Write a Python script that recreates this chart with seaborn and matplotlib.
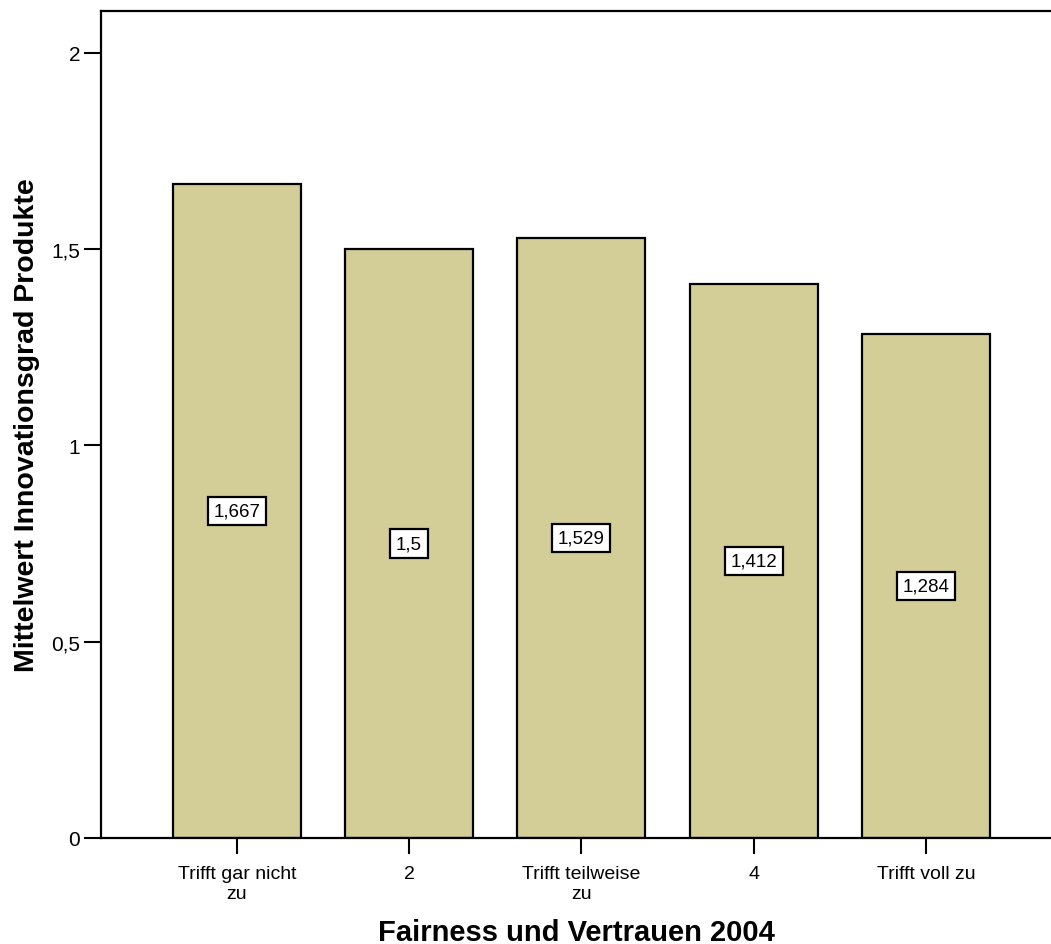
import matplotlib
matplotlib.use("Agg")
import matplotlib.pyplot as plt
import seaborn as sns
import pandas as pd

categories = ["Trifft gar nicht\nzu", "2", "Trifft teilweise\nzu", "4", "Trifft voll zu"]
means = [1.667, 1.5, 1.529, 1.412, 1.284]
value_labels = ["1,667", "1,5", "1,529", "1,412", "1,284"]
ytick_values = [0, 0.5, 1, 1.5, 2]
ytick_labels = ["0", "0,5", "1", "1,5", "2"]

sns.set_style("white")
plt.rcParams["font.family"] = ["Liberation Sans", "DejaVu Sans"]
plt.rcParams["text.color"] = "black"
plt.rcParams["axes.labelcolor"] = "black"
plt.rcParams["xtick.color"] = "black"
plt.rcParams["ytick.color"] = "black"

df = pd.DataFrame({"cat": categories, "mean": means})

fig = plt.figure(figsize=(10.51, 9.45), dpi=100)
ax = fig.add_axes([101 / 1051, 1 - 839 / 945, 1 - 101 / 1051, (839 - 12) / 945])

sns.barplot(data=df, x="cat", y="mean", color="#d3cd98", saturation=1,
            width=0.743, edgecolor="black", linewidth=1.6, ax=ax)

# value boxes at half the bar height
for i, (v, lab) in enumerate(zip(means, value_labels)):
    ax.text(i, v / 2, lab, ha="center", va="center", fontsize=13.5,
            bbox=dict(boxstyle="square,pad=0.3", facecolor="white",
                      edgecolor="black", linewidth=1.6))

ax.set_xlim(-0.788, 4.726)
ax.set_ylim(0, 2.107)
ax.set_yticks(ytick_values)
ax.set_yticklabels(ytick_labels, fontsize=15)
ax.tick_params(axis="x", labelsize=14, length=11.5, width=1.5, direction="out",
               bottom=True, pad=8)
for t in ax.get_xticklabels():
    t.set_linespacing(1.25)
ax.tick_params(axis="y", length=12, width=1.5, direction="out", left=True, pad=3)

for side in ["left", "bottom", "top"]:
    ax.spines[side].set_visible(True)
    ax.spines[side].set_linewidth(1.6)
    ax.spines[side].set_color("black")
ax.spines["right"].set_visible(False)

ax.set_xlabel("Fairness und Vertrauen 2004", fontsize=21, fontweight="bold", labelpad=11)
ax.set_ylabel("Mittelwert Innovationsgrad Produkte", fontsize=20.5, fontweight="bold", labelpad=8)

fig.savefig("out.png", dpi=100)
